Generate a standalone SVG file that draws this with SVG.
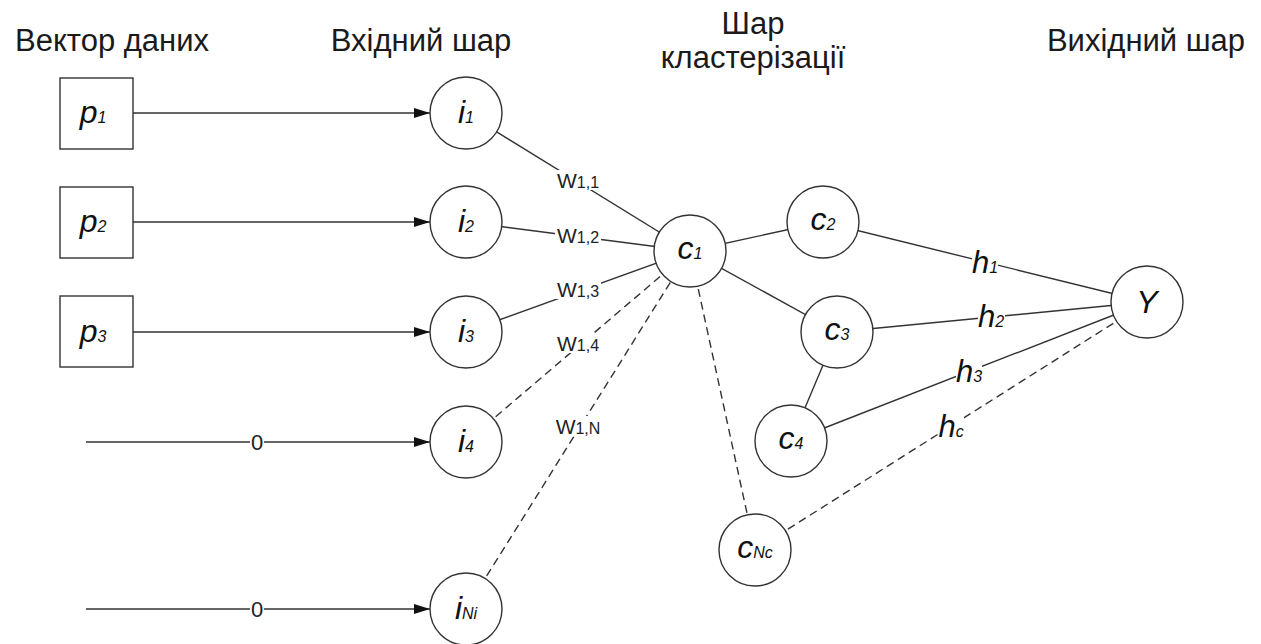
<svg xmlns="http://www.w3.org/2000/svg" width="1261" height="644" viewBox="0 0 1261 644">
<defs>
<marker id="arr" markerUnits="userSpaceOnUse" markerWidth="16" markerHeight="10" refX="16" refY="5" orient="auto">
<path d="M0,0 L16,5 L0,10 z" fill="#111"/>
</marker>
<style>
.hdr{font-family:"Liberation Sans",Arial,sans-serif;font-size:31px;fill:#1a1a1a;text-anchor:middle}
.lbl{font-family:"Liberation Sans",Arial,sans-serif;font-style:italic;font-size:32px;fill:#111;text-anchor:middle}
.sub{font-size:16px}
.w{font-family:"Liberation Sans",Arial,sans-serif;font-size:21px;fill:#222;text-anchor:middle}
.z{font-family:"Liberation Sans",Arial,sans-serif;font-size:22px;fill:#222;text-anchor:middle}
.ws{font-size:16px}
.h{font-family:"Liberation Sans",Arial,sans-serif;font-style:italic;font-size:31px;fill:#111;text-anchor:middle}
.hs{font-size:16px}
.bg{fill:#fff}
.node{fill:#fff;stroke:#333;stroke-width:1.4}
.e{stroke:#333;stroke-width:1.4;fill:none}
.d{stroke:#333;stroke-width:1.4;fill:none;stroke-dasharray:8,5}
</style>
</defs>
<rect width="1261" height="644" fill="#fff"/>

<g id="headers">
<text class="hdr" x="112" y="51">Вектор даних</text>
<text class="hdr" x="421" y="51">Вхідний шар</text>
<text class="hdr" x="753" y="34">Шар</text>
<text class="hdr" x="753" y="68">кластерізації</text>
<text class="hdr" x="1146" y="51">Вихідний шар</text>
</g>

<g id="connectors">
<line class="e" x1="133" y1="113" x2="430" y2="113" marker-end="url(#arr)"/>
<line class="e" x1="133" y1="222" x2="430" y2="222" marker-end="url(#arr)"/>
<line class="e" x1="133" y1="332" x2="430" y2="332" marker-end="url(#arr)"/>
<line class="e" x1="86" y1="442" x2="430" y2="442" marker-end="url(#arr)"/>
<line class="e" x1="86" y1="609" x2="430" y2="609" marker-end="url(#arr)"/>
<line class="e" x1="466" y1="113" x2="690" y2="251"/>
<line class="e" x1="466" y1="222" x2="690" y2="251"/>
<line class="e" x1="466" y1="332" x2="690" y2="251"/>
<line class="d" x1="466" y1="442" x2="690" y2="251"/>
<line class="d" x1="466" y1="609" x2="690" y2="251"/>
<line class="e" x1="690" y1="251" x2="823" y2="222"/>
<line class="e" x1="690" y1="251" x2="837" y2="332"/>
<line class="e" x1="837" y1="332" x2="791" y2="441"/>
<line class="d" x1="690" y1="251" x2="755" y2="550"/>
<line class="e" x1="823" y1="222" x2="1147" y2="302"/>
<line class="e" x1="837" y1="332" x2="1147" y2="302"/>
<line class="e" x1="791" y1="441" x2="1147" y2="302"/>
<line class="d" x1="755" y1="550" x2="1147" y2="302"/>
<rect class="bg" x="250" y="432" width="14" height="20"/>
<rect class="bg" x="250" y="599" width="14" height="20"/>
<text class="z" x="257" y="450">0</text>
<text class="z" x="257" y="617">0</text>
<rect class="bg" x="555" y="170" width="46" height="20"/>
<rect class="bg" x="555" y="225" width="46" height="20"/>
<rect class="bg" x="555" y="279" width="46" height="20"/>
<rect class="bg" x="555" y="333" width="46" height="20"/>
<rect class="bg" x="554" y="416" width="49" height="20"/>
<text class="w" x="578" y="188">W<tspan class="ws">1,1</tspan></text>
<text class="w" x="578" y="243">W<tspan class="ws">1,2</tspan></text>
<text class="w" x="578" y="297">W<tspan class="ws">1,3</tspan></text>
<text class="w" x="578" y="351">W<tspan class="ws">1,4</tspan></text>
<text class="w" x="578" y="434">W<tspan class="ws">1,N</tspan></text>
<rect class="bg" x="972" y="249" width="26" height="25"/>
<rect class="bg" x="978" y="303" width="27" height="25"/>
<rect class="bg" x="956" y="358" width="26" height="25"/>
<rect class="bg" x="939" y="413" width="25" height="25"/>
<text class="h" x="985" y="273">h<tspan class="hs">1</tspan></text>
<text class="h" x="991" y="327">h<tspan class="hs">2</tspan></text>
<text class="h" x="969" y="382">h<tspan class="hs">3</tspan></text>
<text class="h" x="951" y="437">h<tspan class="hs">c</tspan></text>
</g>

<g id="p1"><rect class="node" x="60" y="78" width="73" height="71"/><text class="lbl" x="93" y="123">p<tspan class="sub">1</tspan></text></g>
<g id="p2"><rect class="node" x="60" y="187" width="73" height="71"/><text class="lbl" x="93" y="232">p<tspan class="sub">2</tspan></text></g>
<g id="p3"><rect class="node" x="60" y="296" width="73" height="71"/><text class="lbl" x="93" y="342">p<tspan class="sub">3</tspan></text></g>

<g id="i1"><circle class="node" cx="466" cy="113" r="36"/><text class="lbl" x="466" y="123">i<tspan class="sub">1</tspan></text></g>
<g id="i2"><circle class="node" cx="466" cy="222" r="36"/><text class="lbl" x="466" y="232">i<tspan class="sub">2</tspan></text></g>
<g id="i3"><circle class="node" cx="466" cy="332" r="36"/><text class="lbl" x="466" y="342">i<tspan class="sub">3</tspan></text></g>
<g id="i4"><circle class="node" cx="466" cy="442" r="36"/><text class="lbl" x="466" y="452">i<tspan class="sub">4</tspan></text></g>
<g id="iNi"><circle class="node" cx="466" cy="609" r="36"/><text class="lbl" x="466" y="619">i<tspan class="sub">Ni</tspan></text></g>

<g id="c1"><circle class="node" cx="690" cy="251" r="36"/><text class="lbl" x="690" y="259">c<tspan class="sub">1</tspan></text></g>
<g id="c2"><circle class="node" cx="823" cy="222" r="36"/><text class="lbl" x="823" y="230">c<tspan class="sub">2</tspan></text></g>
<g id="c3"><circle class="node" cx="837" cy="332" r="36"/><text class="lbl" x="837" y="340">c<tspan class="sub">3</tspan></text></g>
<g id="c4"><circle class="node" cx="791" cy="441" r="36"/><text class="lbl" x="791" y="449">c<tspan class="sub">4</tspan></text></g>
<g id="cNc"><circle class="node" cx="755" cy="550" r="36"/><text class="lbl" x="755" y="558">c<tspan class="sub">Nc</tspan></text></g>

<g id="Y"><circle class="node" cx="1147" cy="302" r="36"/><text class="lbl" x="1147" y="313">Y</text></g>
</svg>
